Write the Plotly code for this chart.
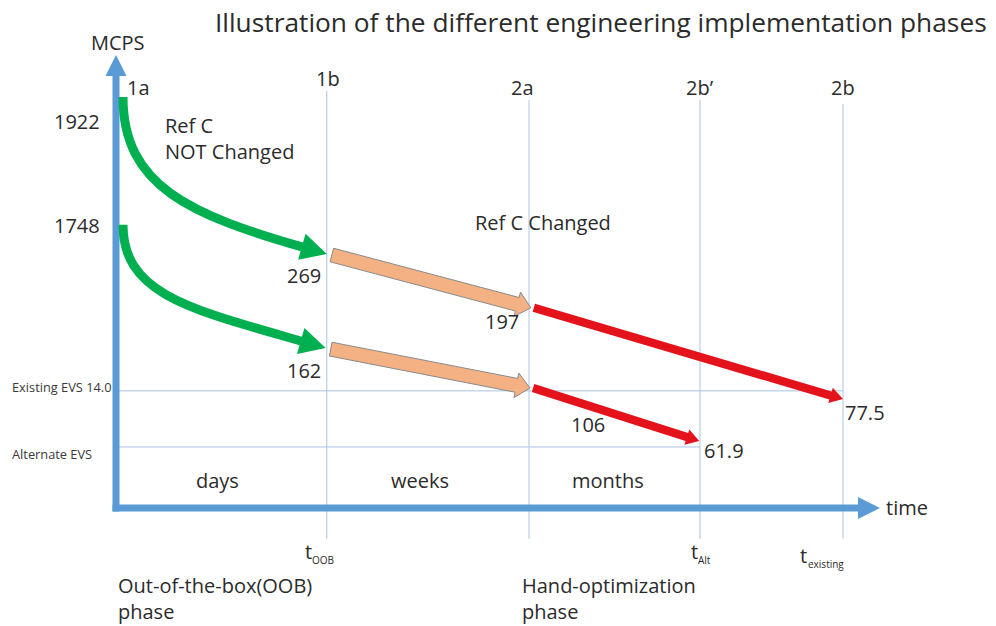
import math
import plotly.graph_objects as go

# ---------------- data ----------------
title_text = "Illustration of the different engineering implementation phases"

phase_labels = ["1a", "1b", "2a", "2b’", "2b"]
phase_times = [0.0, 28.9, 56.75, 80.3, 100.0]          # schematic time, t_existing = 100

time_marker_labels = ["OOB", "Alt", "existing"]
time_marker_times = [28.9, 80.3, 100.0]

period_labels = ["days", "weeks", "months"]
period_times = [13.8, 41.7, 67.6]

# MCPS at the milestones: start, end of OOB phase, start of hand-optimization, final
ref_c_not_changed_mcps = [1922, 269, 197, 77.5]
ref_c_changed_mcps = [1748, 162, 106, 61.9]
# schematic (not to scale) heights and times of those milestones
upper_times = [0.0, 28.9, 57.0, 100.0]
upper_levels = [100.0, 61.8, 48.7, 26.5]
lower_times = [0.0, 28.75, 56.9, 80.2]
lower_levels = [68.9, 38.9, 29.2, 16.3]

reference_labels = ["Existing EVS 14.0", "Alternate EVS"]
reference_levels = [28.5, 14.85]
reference_end_times = [100.0, 80.3]

phase_text = ["Out-of-the-box(OOB)<br>phase", "Hand-optimization<br>phase"]

# ---------------- layout helpers ----------------
W, H = 996, 626
X0, XS = 117.0, 7.26      # pixel of t=0, pixels per time unit
Y0, YS = 508.0, 4.11      # pixel of level 0, pixels per level unit

def to_dx(p): return (p - X0) / XS
def to_dy(p): return (Y0 - p) / YS
def px(t): return X0 + XS * t
def py(v): return Y0 - YS * v

FONT = "'Open Sans', Lato, sans-serif"
TXT = "#2b2b2b"
BLUE = "#5B9BD5"
THIN = "#A9C4E4"
GREEN = "#00B050"
ORANGE = "#F4B183"
RED = "#E3121B"
FS = 20

fig = go.Figure()

def poly_path(points):
    return "M " + " L ".join(f"{to_dx(x):.4f},{to_dy(y):.4f}" for x, y in points) + " Z"

def block_arrow(start, tip, w, hw, hl, fill, line_color=None, line_width=0):
    sx, sy = start
    ex, ey = tip
    L = math.hypot(ex - sx, ey - sy)
    ux, uy = (ex - sx) / L, (ey - sy) / L
    nx, ny = -uy, ux
    bx, by = ex - ux * hl, ey - uy * hl
    pts = [(sx + nx * w, sy + ny * w), (bx + nx * w, by + ny * w), (bx + nx * hw, by + ny * hw),
           (ex, ey), (bx - nx * hw, by - ny * hw), (bx - nx * w, by - ny * w), (sx - nx * w, sy - ny * w)]
    fig.add_shape(type="path", path=poly_path(pts), xref="x", yref="y", fillcolor=fill,
                  line=dict(color=line_color or fill, width=line_width), layer="above")

def curved_arrow(start, tip, angle_deg, width, hw, hl, color):
    ang = math.radians(angle_deg)
    ux, uy = math.cos(ang), math.sin(ang)
    tx, ty = tip
    bx, by = tx - ux * hl, ty - uy * hl
    sx, sy = start
    ddx, ddy = bx - sx, by - sy
    p1 = (sx, sy + 0.6 * ddy)
    k = 0.62 * ddx / ux
    p2 = (bx - k * ux, by - k * uy)
    path = (f"M {to_dx(sx):.4f},{to_dy(sy):.4f} C {to_dx(p1[0]):.4f},{to_dy(p1[1]):.4f} "
            f"{to_dx(p2[0]):.4f},{to_dy(p2[1]):.4f} {to_dx(bx + ux*2):.4f},{to_dy(by + uy*2):.4f}")
    fig.add_shape(type="path", path=path, xref="x", yref="y",
                  line=dict(color=color, width=width), layer="above")
    nx, ny = -uy, ux
    pts = [(tx, ty), (bx + nx * hw, by + ny * hw), (bx - nx * hw, by - ny * hw)]
    fig.add_shape(type="path", path=poly_path(pts), xref="x", yref="y", fillcolor=color,
                  line=dict(color=color, width=0), layer="above")

def ann(text, x, y, size=FS, xanchor="center", yanchor="middle", xshift=0, yshift=0,
        color=TXT, align="center"):
    fig.add_annotation(text=text, x=x, y=y, xref="x", yref="y", showarrow=False,
                       xanchor=xanchor, yanchor=yanchor, xshift=xshift, yshift=yshift,
                       align=align, font=dict(family=FONT, size=size, color=color))

# ---------------- thin guide lines ----------------
line_tops = [None, 101.5, 99.3, 99.3, 98.3]
for t, top in zip(phase_times[1:], line_tops[1:]):
    fig.add_trace(go.Scatter(x=[t, t], y=[top, -7.5], mode="lines",
                             line=dict(color=THIN, width=1), hoverinfo="skip"))
for lvl, tend in zip(reference_levels, reference_end_times):
    fig.add_trace(go.Scatter(x=[0, tend], y=[lvl, lvl], mode="lines",
                             line=dict(color=THIN, width=1), hoverinfo="skip"))

# ---------------- axes arrows ----------------
block_arrow((px(0) - 1, py(0) + 3.5), (px(0) - 1, 55), 3.5, 10.5, 21, BLUE)
block_arrow((px(0) - 4.5, py(0)), (880, py(0)), 3.5, 11, 22, BLUE)

# ---------------- path arrows ----------------
for times, levels in [(upper_times, upper_levels), (lower_times, lower_levels)]:
    nodes = [(px(t), py(v)) for t, v in zip(times, levels)]
    # green: out-of-the-box phase
    curved_arrow((nodes[0][0] + 6, nodes[0][1]), nodes[1], 16, 9, 13.5, 26, GREEN)
    # orange: to the start of hand-optimization
    s = (nodes[1][0] + 5, nodes[1][1] + 1)
    block_arrow(s, nodes[2], 7, 12.5, 14, ORANGE, "#8A8A8A", 1)
    # red: hand-optimization
    s = (nodes[2][0] + 3, nodes[2][1] + 0)
    block_arrow(s, nodes[3], 4.2, 8, 13, RED)

# ---------------- value labels ----------------
upper_offsets = [(-46, 24), (-23, 21), (-29, 14), (22, 13)]
lower_offsets = [(-46, 1), (-22, 22), (58, 37), (25, 9)]
for times, levels, vals, offs in [(upper_times, upper_levels, ref_c_not_changed_mcps, upper_offsets),
                                  (lower_times, lower_levels, ref_c_changed_mcps, lower_offsets)]:
    for i, (t, v, val, (ox, oy)) in enumerate(zip(times, levels, vals, offs)):
        base_x = px(t) + (6 if i == 0 else 0)
        ann(f"{val:g}", to_dx(base_x + ox), to_dy(py(v) + oy))

# ---------------- other text ----------------
phase_label_dx = [21, 1, -7, 0, 0]
phase_label_y = [87, 78, 87, 87, 87]
for lab, t, ox, yy in zip(phase_labels, phase_times, phase_label_dx, phase_label_y):
    ann(lab, to_dx(px(t) + ox), to_dy(yy))

for lab, t in zip(period_labels, period_times):
    ann(lab, t, to_dy(480))

# t with subscript, drawn as a main glyph and a small subscript next to it
marker_dx = [-13, 0, -34]
marker_y = [551, 551, 555]
for lab, t, ox, yy in zip(time_marker_labels, time_marker_times, marker_dx, marker_y):
    ann("t", to_dx(px(t) + ox), to_dy(yy), xanchor="right")
    ann(lab, to_dx(px(t) + ox - 3.5), to_dy(yy + 9), size=10, xanchor="left")

for lab, lvl, yoff in zip(reference_labels, reference_levels, [-4, 7]):
    ann(lab, to_dx(10), to_dy(py(lvl) + yoff), size=12.8, xanchor="left", color="#3a3a3a")

ann("MCPS", to_dx(118), to_dy(42))
ann("Ref C", to_dx(163), to_dy(125), xanchor="left")
ann("NOT Changed", to_dx(163), to_dy(151), xanchor="left")
ann("Ref C Changed", to_dx(543), to_dy(222))
ann("time", to_dx(884), to_dy(507), xanchor="left")

for txt, xl in zip(phase_text, [116, 520]):
    l1, l2 = txt.split("<br>")
    ann(l1, to_dx(xl), to_dy(585), xanchor="left")
    ann(l2, to_dx(xl), to_dy(611), xanchor="left")

ann(title_text, to_dx(601), to_dy(22), size=26.3)

fig.update_layout(
    width=W, height=H,
    margin=dict(l=0, r=0, t=0, b=0),
    paper_bgcolor="white", plot_bgcolor="white",
    showlegend=False,
    xaxis=dict(range=[to_dx(0), to_dx(W)], visible=False, fixedrange=True),
    yaxis=dict(range=[to_dy(H), to_dy(0)], visible=False, fixedrange=True),
)

fig.write_html("out.html", config={"displayModeBar": False},
               post_script="document.body.style.margin='0';document.body.style.overflow='hidden';")
